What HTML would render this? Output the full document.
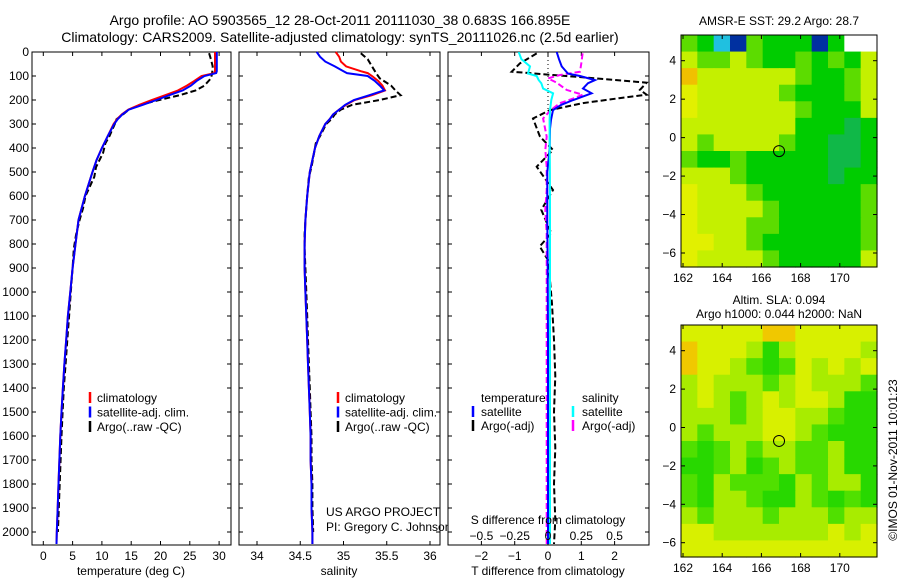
<!DOCTYPE html>
<html><head><meta charset="utf-8">
<style>
body{margin:0;background:#fff;}
svg{display:block;font-family:"Liberation Sans",sans-serif;}
text{fill:#000;}
</style></head>
<body>
<svg id="fig" width="900" height="580" viewBox="0 0 900 580" xmlns="http://www.w3.org/2000/svg"></svg>
<script>
// ---------- data ----------
const depths = [0,20,40,60,80,88,100,120,140,160,180,200,220,240,260,280,300,350,400,450,500,600,700,800,900,1000,1100,1200,1300,1400,1500,1600,1700,1800,1900,2000,2050];
const tempSat = [29.6,29.6,29.6,29.6,29.6,29.5,27.5,26.2,25.2,23.8,21.5,19.3,17,14.6,13.5,12.7,12.1,11,10,9.1,8.4,7.1,6.0,5.5,5.0,4.6,4.2,3.9,3.6,3.35,3.1,2.9,2.75,2.6,2.45,2.3,2.25];
const tempClim = [29.3,29.3,29.3,29.3,29.3,29.2,27.0,25.8,24.5,23.0,20.8,18.5,16.4,14.5,13.4,12.6,12.0,11,10,9.1,8.4,7.1,6.0,5.5,5.0,4.6,4.2,3.9,3.6,3.35,3.1,2.9,2.75,2.6,2.45,2.3,2.25];
const argoDepths = [5,30,60,90,110,140,160,180,200,220,240,260,280,300,350,380,420,480,520,600,650,700,760,820,900,1000,1100,1200,1300,1400,1500,1600,1700,1800,1900,2000];
const tempArgo = [28.3,28.6,28.9,28.8,28.6,27.5,26.0,23.3,19.8,16.5,14.6,13.6,12.5,12.2,11.3,10.6,10.2,9.0,8.7,7.2,6.8,6.2,5.6,5.2,5.0,4.7,4.4,4.1,3.8,3.5,3.3,3.1,2.95,2.8,2.65,2.5];
const salSat = [34.69,34.73,34.79,34.9,35.0,35.04,35.28,35.36,35.42,35.47,35.3,35.12,35.02,34.95,34.88,34.84,34.79,34.72,34.67,34.64,34.61,34.58,34.56,34.55,34.55,34.56,34.57,34.58,34.59,34.6,34.61,34.62,34.62,34.63,34.63,34.64,34.64];
const salClim = [34.91,34.95,34.97,35.03,35.2,35.28,35.33,35.4,35.45,35.48,35.33,35.13,35.03,34.95,34.88,34.84,34.79,34.72,34.67,34.64,34.61,34.58,34.56,34.55,34.55,34.56,34.57,34.58,34.59,34.6,34.61,34.62,34.62,34.63,34.63,34.64,34.64];
const salArgo = [35.2,35.28,35.33,35.38,35.42,35.55,35.6,35.66,35.42,35.1,34.97,34.9,34.86,34.8,34.73,34.68,34.66,34.63,34.6,34.58,34.57,34.56,34.55,34.55,34.56,34.57,34.58,34.59,34.6,34.61,34.62,34.63,34.63,34.64,34.64,34.65];
const dDepths = [0,30,60,90,100,117,130,152,172,200,220,242,283,320,400,500,700,900,1200,1500,1800,2050];
const dTempSat = [0.26,0.33,0.41,0.6,0.96,1.41,1.2,1.05,1.31,0.76,0.4,0.15,0.09,0.06,0.05,-0.02,-0.02,-0.01,0,0,0,0];
const dSalSat = [-0.22,-0.2,-0.135,-0.15,-0.085,-0.07,-0.05,-0.037,0.038,0.025,0.02,0.015,0.012,0.012,0.013,0.014,0.015,0.015,0.015,0.015,0.015,0.015];
const dArgoDepths = [6,47,82,96,110,128,158,178,192,213,242,277,353,408,478,575,658,755,810,867,936,1050,1200,1350,1500,1650,1800,1950,2050];
const dTempArgo = [-0.34,-0.84,-1.09,0.15,1.46,2.96,2.76,2.96,2.16,1.05,0.06,-0.45,-0.24,0.15,-0.34,0.15,-0.2,0.1,-0.25,0,0.05,0.12,0.18,0.22,0.18,0.22,0.18,0.22,0.18];
const dSalArgo = [0.26,0.25,0.24,0.09,0,0.065,0.14,0.26,0.2,0.09,0.02,-0.037,-0.01,-0.02,-0.01,-0.01,-0.02,-0.01,-0.01,-0.01,-0.01,-0.01,-0.01,-0.01,-0.01,-0.01,-0.01,-0.01,-0.01];
const depthTicks = [0,100,200,300,400,500,600,700,800,900,1000,1100,1200,1300,1400,1500,1600,1700,1800,1900,2000];
const tempTicks = [0,5,10,15,20,25,30];
const salTicks = [34,34.5,35,35.5,36];
const dTTicks = [-2,-1,0,1,2];
const dSTicks = [-0.5,-0.25,0,0.25,0.5];
const latTicks = [4,2,0,-2,-4,-6];
const lonTicks = [162,164,166,168,170];
const sstGrid = ["gGcbgGGGbGww","lgglgGGgGgGl","ollllllgGGgl","ylllllgGGGgl","yllllllgGGGl","lllllllGGGtG","lgllllgGGttG","gGGgGGGGGttG","lllgGGGGGtGG","ylllgGGGGGGg","yllllgGGGGGg","ylllggGGGGGg","yyllgGGGGGGg","yllllgGGGGGl"];
const slaGrid = ["yyyyyooyyyyy","oyyylGlyyyyl","oyylgGgylyly","lylllglylllg","lylglylyylGG","lllglyyllgGG","lglllyylgGGG","gGglgllgglGG","GGglGglgglGG","gGlgggGlgllG","gGllgGGlgGgG","lglllglllgll","yylllllllyly","yyyyyyyyyyyy"];
const argoPos = [166.9,-0.7];

// ---------- helpers ----------
const NS="http://www.w3.org/2000/svg";
const svg=document.getElementById('fig');
function mk(tag,attrs,parent){const e=document.createElementNS(NS,tag);for(const k in attrs)e.setAttribute(k,attrs[k]);(parent||svg).appendChild(e);return e;}
function txt(x,y,s,anchor,size,parent){const t=mk('text',{x:x,y:y,'text-anchor':anchor||'start','font-size':size||12},parent);t.textContent=s;return t;}
const yTop=52, yBot=545;
const yD = d => yTop + d*0.24;
function lineFrom(xs,ds,xf,color,dash,name,w){
  let p='';for(let i=0;i<xs.length;i++){p+=(i?'L':'M')+xf(xs[i]).toFixed(1)+','+yD(ds[i]).toFixed(1);}
  const e=mk('path',{d:p,fill:'none',stroke:color,'stroke-width':w||2});
  if(dash)e.setAttribute('stroke-dasharray',dash);
  
  
  return e;
}
function frame(x0,x1,xticks,xf,name,leftLabels){
  const g=mk('g',{});
  
  
  mk('rect',{x:x0,y:yTop,width:x1-x0,height:yBot-yTop,fill:'#fff',stroke:'#000','stroke-width':1},g);
  depthTicks.forEach(d=>{const y=yD(d);mk('line',{x1:x0,x2:x0+4,y1:y,y2:y,stroke:'#000'},g);mk('line',{x1:x1-4,x2:x1,y1:y,y2:y,stroke:'#000'},g);
    if(leftLabels){const t=txt(x0-3,y+4,String(d),'end',12,g);}});
  xticks.forEach(v=>{const x=xf(v);mk('line',{x1:x,x2:x,y1:yTop,y2:yTop+4,stroke:'#000'},g);mk('line',{x1:x,x2:x,y1:yBot-4,y2:yBot,stroke:'#000'},g);});
  return g;
}
function legendMark(x,y,color,dash){mk('line',{x1:x,x2:x,y1:y-10,y2:y+1,stroke:color,'stroke-width':2.5});}

// ---------- titles ----------
let t=txt(340,25,'Argo profile: AO 5903565_12 28-Oct-2011 20111030_38 0.683S 166.895E','middle',14);

t=txt(340,42,'Climatology: CARS2009. Satellite-adjusted climatology: synTS_20111026.nc (2.5d earlier)','middle',14);


// ---------- panel 1: temperature ----------
const xT = v => 43.3 + v*5.86;
frame(32,231,tempTicks,xT,'temperature-panel',true);
tempTicks.forEach(v=>{const e=txt(xT(v),560,String(v),'middle',12);});
t=txt(131,575,'temperature (deg C)','middle',12);
lineFrom(tempArgo,argoDepths,xT,'#000','6,3','argo-temperature-line');
lineFrom(tempClim,depths,xT,'#f00',null,'climatology-temperature-line');
lineFrom(tempSat,depths,xT,'#00f',null,'satellite-temperature-line');
[['climatology','#f00'],['satellite-adj. clim.','#00f'],['Argo(..raw -QC)','#000']].forEach((l,i)=>{const y=402+i*14.5;legendMark(90,y,l[1]);const e=txt(97,y,l[0],'start',12);});

// ---------- panel 2: salinity ----------
const xS = v => 257 + (v-34)*86.5;
frame(239,440,salTicks,xS,'salinity-panel',false);
salTicks.forEach(v=>{const e=txt(xS(v),560,String(v),'middle',12);});
t=txt(339,575,'salinity','middle',12);
lineFrom(salArgo,argoDepths,xS,'#000','6,3','argo-salinity-line');
lineFrom(salClim,depths,xS,'#f00',null,'climatology-salinity-line');
lineFrom(salSat,depths,xS,'#00f',null,'satellite-salinity-line');
[['climatology','#f00'],['satellite-adj. clim.','#00f'],['Argo(..raw -QC)','#000']].forEach((l,i)=>{const y=402+i*14.5;legendMark(338,y,l[1]);const e=txt(345,y,l[0],'start',12);});
t=txt(326,516,'US ARGO PROJECT','start',12);
t=txt(326,531,'PI: Gregory C. Johnson','start',12);

// ---------- panel 3: differences ----------
const xDT = v => 548 + v*33.3;
const xDS = v => 548 + v*133.2;
frame(448,649,dTTicks,xDT,'difference-panel',false);
mk('line',{x1:548,x2:548,y1:yTop,y2:yD(260),stroke:'#000','stroke-dasharray':'1,3'});
const cp=mk('clipPath',{id:'c3'});mk('rect',{x:448,y:yTop,width:201,height:yBot-yTop},cp);
const g3=mk('g',{'clip-path':'url(#c3)'});
function l3(xs,ds,xf,c,dash,name){const e=lineFrom(xs,ds,xf,c,dash,name);g3.appendChild(e);}
l3(dTempArgo,dArgoDepths,xDT,'#000','6,3','argo-temp-diff-line');
l3(dSalArgo,dArgoDepths,xDS,'#f0f','6,3','argo-sal-diff-line');
l3(dTempSat,dDepths,xDT,'#00f',null,'satellite-temp-diff-line');
l3(dSalSat,dDepths,xDS,'#0ff',null,'satellite-sal-diff-line');
dTTicks.forEach(v=>{const e=txt(xDT(v),560,String(v).replace('-','\u2212'),'middle',12);});
dSTicks.forEach(v=>{const e=txt(xDS(v),540,String(v).replace('-','\u2212'),'middle',12);});
t=txt(548,524,'S difference from climatology','middle',12);
t=txt(548,575,'T difference from climatology','middle',12);
t=txt(481,402,'temperature','start',12);
t=txt(582,402,'salinity','start',12);
[['satellite','#00f',473,481,416],['Argo(-adj)','#000',473,481,430],['satellite','#0ff',573,582,416],['Argo(-adj)','#f0f',573,582,430]].forEach(l=>{legendMark(l[2],l[4],l[1]);const e=txt(l[3],l[4],l[0],'start',12);});

// ---------- maps ----------
const sstCols={y:'#e2f000',l:'#c4f000',g:'#5cdc00',G:'#00cc00',t:'#10b848',c:'#20c0e0',b:'#0030a0',w:'#ffffff',o:'#f0c000'};
const slaCols={y:'#d8f000',o:'#f0c800',l:'#a8ec00',g:'#50e000',G:'#28d800'};
function map(top,grid,cols,name,lat4y,latm6y){
  const g=mk('g',{});
  
  
  const x0=681,x1=877,y0=top,y1=top+232;
  const cw=(x1-x0)/grid[0].length,ch=(y1-y0)/grid.length;
  grid.forEach((row,r)=>{for(let c=0;c<row.length;c++){const cell=mk('rect',{x:(x0+c*cw).toFixed(2),y:(y0+r*ch).toFixed(2),width:(cw+0.6).toFixed(2),height:(ch+0.6).toFixed(2),fill:cols[row[c]]},g);
    
    }});
  mk('rect',{x:x0,y:y0,width:x1-x0,height:y1-y0,fill:'none',stroke:'#000'},g);
  const lonX=v=>683+(v-162)*19.6;
  const latY=v=>lat4y+(4-v)*(latm6y-lat4y)/10;
  lonTicks.forEach(v=>{const x=lonX(v);mk('line',{x1:x,x2:x,y1:y0,y2:y0+4,stroke:'#000'},g);mk('line',{x1:x,x2:x,y1:y1-4,y2:y1,stroke:'#000'},g);
    const e=txt(x,y1+15,String(v),'middle',12,g);});
  latTicks.forEach(v=>{const y=latY(v);mk('line',{x1:x0,x2:x0+4,y1:y,y2:y,stroke:'#000'},g);mk('line',{x1:x1-4,x2:x1,y1:y,y2:y,stroke:'#000'},g);
    const e=txt(x0-5,y+4,String(v).replace('-','\u2212'),'end',12,g);});
  const m=mk('circle',{cx:lonX(argoPos[0]),cy:latY(argoPos[1]),r:5.5,fill:'none',stroke:'#000','stroke-width':1},g);
  
  
}
map(35,sstGrid,sstCols,'sst-map',60.7,253);
map(325,slaGrid,slaCols,'sla-map',350.7,542.7);
t=txt(779,25,'AMSR-E SST: 29.2 Argo: 28.7','middle',12);
t=txt(779,304,'Altim. SLA: 0.094','middle',12);
t=txt(779,318,'Argo h1000: 0.044 h2000: NaN','middle',12);
t=txt(0,0,'\u00a9IMOS 01-Nov-2011 10:01:23','middle',12);
t.setAttribute('transform','translate(897,460) rotate(-90)');

</script>
</body></html>
